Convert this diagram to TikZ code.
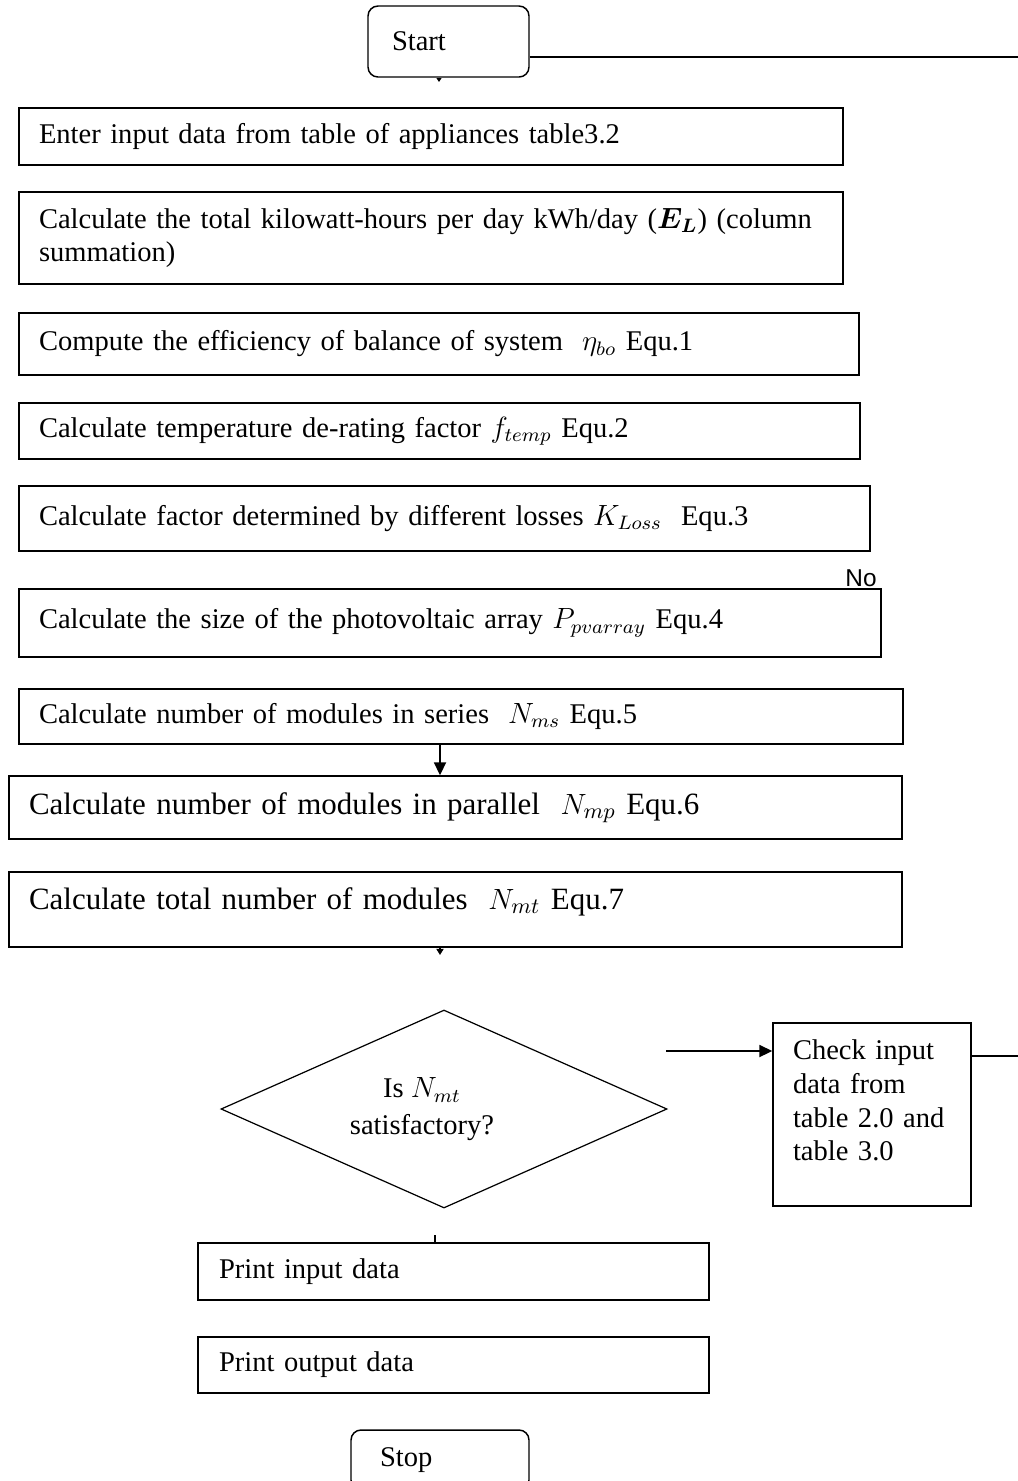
\documentclass[tikz,border=0pt]{standalone}
\usepackage{amsmath}
\usepackage{fontspec}
\setmainfont{Liberation Serif}
\newfontfamily\nofont{Liberation Sans}
\usetikzlibrary{arrows.meta,shapes.geometric}
\newlength{\px}
\setlength{\px}{0.41pt}
\newcommand{\boxfont}{\fontsize{11.7}{13.8}\selectfont}
\newcommand{\bigboxfont}{\fontsize{12.7}{15}\selectfont}

\begin{document}
\begin{tikzpicture}[x=0.41pt,y=-0.41pt,
    procbox/.style={draw,line width=0.6pt,inner xsep=20\px,inner ysep=0pt,align=left,font=\boxfont},
    termbox/.style={draw,line width=0.6pt,rounded corners=10\px,inner ysep=0pt,align=left,font=\boxfont},
    decision/.style={diamond,draw,line width=0.5pt,aspect=2.25,inner sep=0pt,align=center,font=\fontsize{11.7}{15}\selectfont},
    flow/.style={-{Triangle[length=5.3pt,width=4.9pt]},line width=0.8pt},
    stub/.style={-{Triangle[length=2.5pt,width=2.9pt]},line width=0.6pt},
    link/.style={line width=0.8pt}]
    \useasboundingbox (0,0) rectangle (1018,1481);
    \clip (0,0) rectangle (1018,1481);
    \fill[white] (0,0) rectangle (1018,1481);

    % Start
    \node[termbox,inner xsep=24\px,text width=113\px,minimum height=71\px] (start) at (448.5,41.5) {Start};

    % Sizing steps
    \node[procbox,text width=784\px,minimum height=57\px] (input) at (431,136.5) {Enter input data from table of appliances table3.2};
    \node[procbox,text width=784\px,minimum height=92\px] (load) at (431,238) {\mbox{Calculate the total kilowatt-hours per day kWh/day ($\boldsymbol{E_L}$) (column}\\summation)};
    \node[procbox,text width=800\px,minimum height=62\px] (effic) at (439,344) {Compute the efficiency of balance of system \ $\eta_{bo}$ Equ.1};
    \node[procbox,text width=801\px,minimum height=56\px] (ftemp) at (439.5,431) {Calculate temperature de-rating factor $f_{temp}$ Equ.2};
    \node[procbox,text width=811\px,minimum height=65\px] (kloss) at (444.5,518.5) {Calculate factor determined by different losses $K_{Loss}$ \ Equ.3};
    \node[procbox,text width=822\px,minimum height=68\px] (pvarray) at (450,623) {Calculate the size of the photovoltaic array $P_{pvarray}$ Equ.4};
    \node[procbox,text width=844\px,minimum height=55\px] (nseries) at (461,716.5) {Calculate number of modules in series \ $N_{ms}$ Equ.5};
    \node[procbox,font=\bigboxfont,text width=853\px,minimum height=63\px] (nparallel) at (455.5,807.5) {Calculate number of modules in parallel \ $N_{mp}$ Equ.6};
    \node[procbox,font=\bigboxfont,text width=853\px,minimum height=75\px] (ntotal) at (455.5,909.5) {Calculate total number of modules \ $N_{mt}$ Equ.7\\[-6pt]\mbox{}};
    \node[font=\nofont\fontsize{10}{12}\selectfont,inner sep=0pt] (nolabel) at (861,578.5) {No};

    % Decision
    \node[decision,minimum width=446\px,minimum height=198\px] (check) at (444,1109) {Is $N_{mt}$\hspace*{44\px}\\satisfactory?\hspace*{44\px}};
    \node[procbox,text width=158\px,minimum height=183\px] (recheck) at (872,1114.5) {Check input\\data from\\table 2.0 and\\table 3.0\\[-2.3pt]\mbox{}};

    % Output
    \node[procbox,inner xsep=21\px,text width=469\px,minimum height=57\px] (printin) at (453.5,1271.5) {Print input data};
    \node[procbox,inner xsep=21\px,text width=469\px,minimum height=56\px] (printout) at (453.5,1365) {Print output data};
    \node[termbox,inner xsep=29\px,text width=120\px,minimum height=60\px] (stop) at (440,1460) {Stop};

    % Connectors
    \coordinate (spine) at (440,0);
    \coordinate (topright) at (1018,57);
    \coordinate (feedback) at (1018,1056);
    \coordinate (nostart) at (666,1051);
    \coordinate (yesstub) at (435,1235);
    \coordinate (startstub) at (439,82);
    \coordinate (totalstub) at (440,955);
    \draw[link] (start.east |- topright) -- (topright);
    \draw[-{Triangle[length=1.6pt,width=2pt]},line width=0.5pt] (start.south -| startstub) -- (startstub);
    \draw[flow] (nseries.south -| spine) -- (nparallel.north -| spine);
    \draw[stub] (ntotal.south -| spine) -- (totalstub);
    \draw[link] (yesstub) -- (yesstub |- printin.north);
    \draw[flow] (nostart) -- (nostart -| recheck.west);
    \draw[link] (recheck.east |- feedback) -- (feedback);
\end{tikzpicture}
\end{document}
